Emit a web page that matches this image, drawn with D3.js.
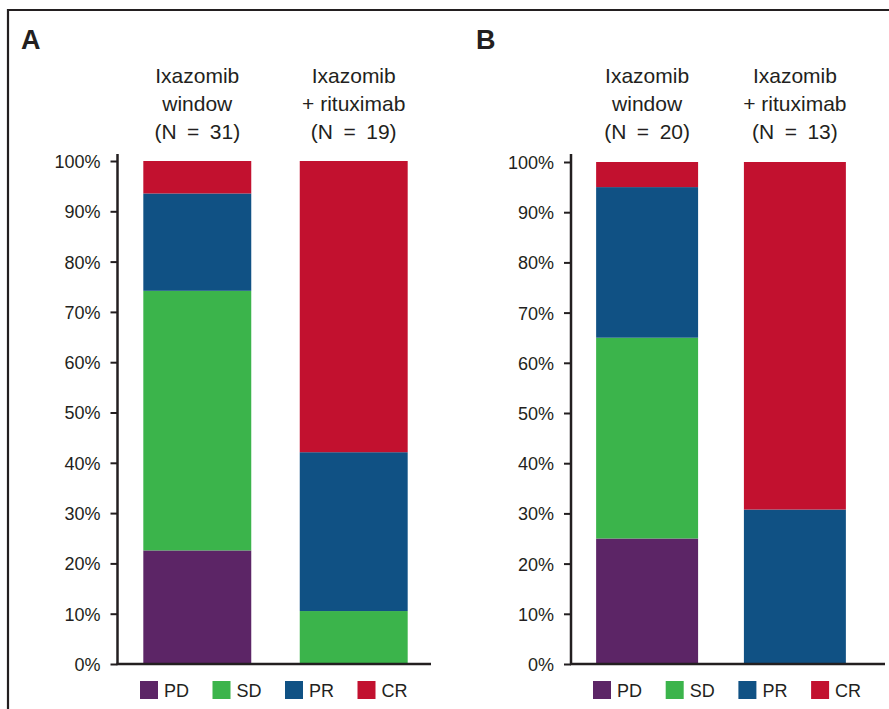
<!DOCTYPE html>
<html>
<head>
<meta charset="utf-8">
<script src="https://cdn.jsdelivr.net/npm/d3@7"></script>
<style>
  body { margin: 0; background: #fff; }
  svg { display: block; }
</style>
</head>
<body>
<div id="place"></div>
<script>
// responses, counts per arm
const responses = ["PD", "SD", "PR", "CR"];
const colors = ["#5c2566", "#3bb44b", "#105184", "#c2112f"];

const armsA = ["Ixazomib window", "Ixazomib + rituximab"];
const nA = [31, 19];
const countsA = [
  [7, 16, 6, 2],
  [0, 2, 6, 11]
];

const armsB = ["Ixazomib window", "Ixazomib + rituximab"];
const nB = [20, 13];
const countsB = [
  [5, 8, 6, 1],
  [0, 0, 4, 9]
];

const headerLines = [["Ixazomib", "window"], ["Ixazomib", "+ rituximab"]];
const yTicks = [0, 0.1, 0.2, 0.3, 0.4, 0.5, 0.6, 0.7, 0.8, 0.9, 1];

const ink = "#231f20";
const font = "'Liberation Sans', Arial, Helvetica, sans-serif";

const svg = d3.select("#place").append("svg")
  .attr("width", 889).attr("height", 709);

// frame (only top and left edges visible)
svg.append("path")
  .attr("d", "M8,709 L8,10 L889,10")
  .attr("fill", "none").attr("stroke", ink).attr("stroke-width", 2.2);

function drawPanel(opt) {
  const g = svg.append("g");

  const x = d3.scaleBand()
    .domain(opt.arms.map((d, i) => i))
    .range(opt.xRange)
    .paddingInner(0.31)
    .paddingOuter(opt.outer);

  const y = d3.scaleLinear().domain([0, 1]).range([664, opt.yTop]);

  // stacked shares
  const rows = opt.counts.map((c, i) => {
    const r = { arm: i };
    responses.forEach((k, j) => r[k] = c[j] / opt.n[i]);
    return r;
  });
  const stack = d3.stack().keys(responses)(rows);

  g.selectAll("g.layer").data(stack).enter()
    .append("g").attr("class", "layer")
    .attr("fill", (d, i) => colors[i])
    .selectAll("rect").data(d => d).enter()
    .append("rect")
    .attr("x", d => x(d.data.arm))
    .attr("width", x.bandwidth())
    .attr("y", d => y(d[1]))
    .attr("height", d => Math.max(0, y(d[0]) - y(d[1])));

  // y axis
  const axis = g.append("g")
    .attr("transform", "translate(" + opt.axisX + ",0)")
    .call(d3.axisLeft(y).tickValues(yTicks).tickFormat(d3.format(".0%"))
      .tickSize(7).tickPadding(10));
  axis.select(".domain").remove();
  axis.selectAll(".tick line").attr("stroke", ink).attr("stroke-width", 2);
  axis.selectAll(".tick text")
    .attr("fill", ink).style("font-family", font).style("font-size", "18px")
    .attr("dy", "0.36em");

  g.append("line")
    .attr("x1", opt.axisX).attr("x2", opt.axisX)
    .attr("y1", 154).attr("y2", 665)
    .attr("stroke", ink).attr("stroke-width", 2.5);
  g.append("line")
    .attr("x1", opt.axisX - 1).attr("x2", opt.xEnd)
    .attr("y1", 664).attr("y2", 664)
    .attr("stroke", ink).attr("stroke-width", 2.5);

  // column headers
  opt.arms.forEach((a, i) => {
    const cx = x(i) + x.bandwidth() / 2;
    const lines = headerLines[i].concat(["(N\u2002=\u2002" + opt.n[i] + ")"]);
    g.append("text")
      .attr("x", cx).attr("text-anchor", "middle")
      .attr("fill", ink).style("font-family", font).style("font-size", "21px")
      .selectAll("tspan").data(lines).enter()
      .append("tspan")
      .attr("x", cx)
      .attr("y", (d, k) => 83 + k * 28)
      .text(d => d);
  });

  // panel letter
  g.append("text")
    .attr("x", opt.letterX).attr("y", 49)
    .attr("fill", ink).style("font-family", font)
    .style("font-size", "27px").style("font-weight", "bold")
    .text(opt.letter);

  // legend
  const leg = g.selectAll("g.leg").data(responses).enter()
    .append("g").attr("class", "leg")
    .attr("transform", (d, i) => "translate(" + (opt.legendX + i * opt.legendStep) + ",681)");
  leg.append("rect").attr("width", 18).attr("height", 18)
    .attr("fill", (d, i) => colors[i]);
  leg.append("text").attr("x", 24).attr("y", 16)
    .attr("fill", ink).style("font-family", font).style("font-size", "18px")
    .text(d => d);
}

drawPanel({
  letter: "A", letterX: 21,
  arms: armsA, n: nA, counts: countsA,
  xRange: [117.5, 433.5], outer: 0.165, axisX: 117.5, xEnd: 431,
  yTop: 161, legendX: 140, legendStep: 72.5
});

drawPanel({
  letter: "B", letterX: 476,
  arms: armsB, n: nB, counts: countsB,
  xRange: [571, 871], outer: 0.17, axisX: 571, xEnd: 885,
  yTop: 162, legendX: 593, legendStep: 72.7
});
</script>
</body>
</html>
